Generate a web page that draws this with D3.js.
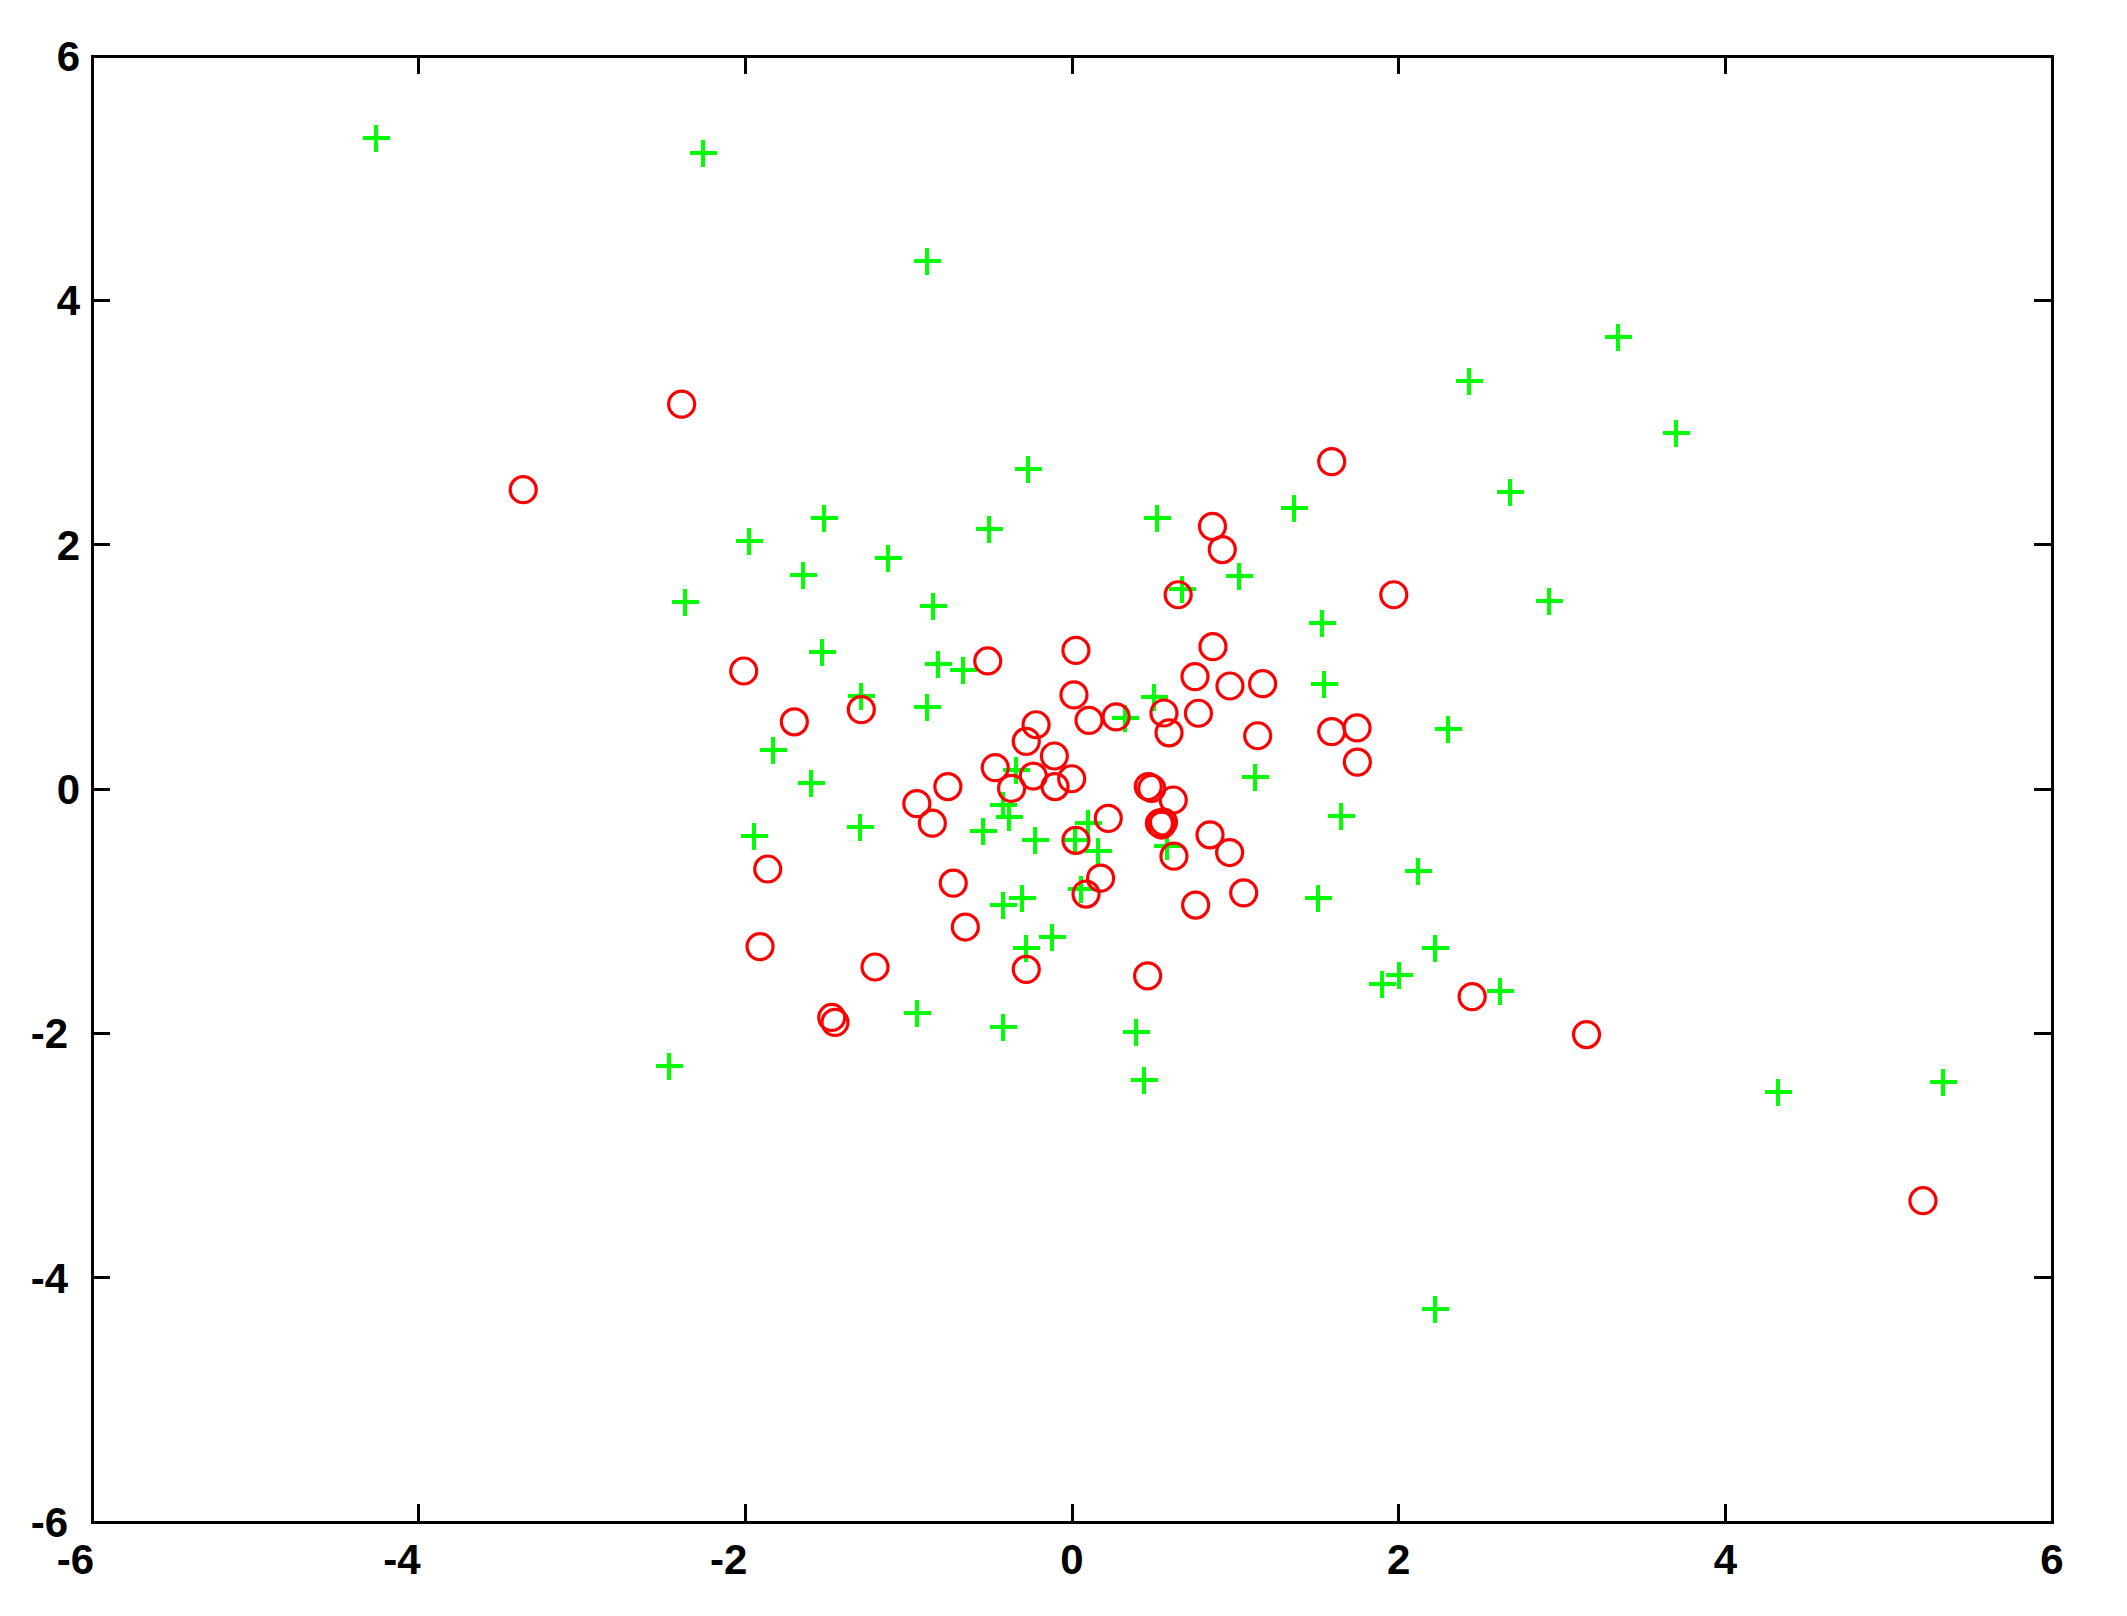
<!DOCTYPE html>
<html>
<head>
<meta charset="utf-8">
<script src="https://cdn.jsdelivr.net/npm/d3@7/dist/d3.min.js"></script>
<style>
  html, body { margin: 0; padding: 0; background: #ffffff; }
  svg { display: block; }
</style>
</head>
<body>
<svg id="chart" width="2127" height="1616"></svg>
<script>
// ---- data ----
const xTicks = [-6, -4, -2, 0, 2, 4, 6];
const yTicks = [-6, -4, -2, 0, 2, 4, 6];
const xTickLabels = ["-6", "-4", "-2", "0", "2", "4", "6"];
const yTickLabels = ["-6", "-4", "-2", "0", "2", "4", "6"];

// green "+" series
const plusX = [-4.26, -2.26, -0.89, 3.34, 2.43, 3.70, 2.68, -0.27, 1.36, 0.52,
  -1.52, -0.51, -1.98, -1.125, -1.65, 1.02, 0.675, -2.37, -0.85, 2.92,
  1.53, -1.53, -0.82, -0.665, 1.54, 0.50, -1.29, -0.89, 0.325, 2.30,
  -1.83, -0.34, 1.118, -1.60, -0.42, -0.384, 1.645, -1.945, -1.30, -0.543,
  0.096, -0.225, 0.018, 0.157, 0.58, 2.12, -0.304, -0.424, 0.057, 1.504,
  -0.124, -0.28, 2.22, 2.00, 1.896, 2.62, -0.947, -0.424, 0.39, -2.47,
  0.44, 4.32, 5.33, 2.22];
const plusY = [5.33, 5.21, 4.32, 3.70, 3.34, 2.91, 2.43, 2.62, 2.30, 2.22,
  2.22, 2.13, 2.03, 1.89, 1.75, 1.74, 1.64, 1.53, 1.50, 1.54,
  1.36, 1.12, 1.02, 0.97, 0.86, 0.755, 0.76, 0.67, 0.58, 0.49,
  0.32, 0.155, 0.095, 0.05, -0.13, -0.23, -0.22, -0.385, -0.31, -0.34,
  -0.275, -0.42, -0.42, -0.51, -0.47, -0.67, -0.89, -0.95, -0.82, -0.895,
  -1.21, -1.30, -1.30, -1.52, -1.60, -1.65, -1.83, -1.945, -1.99, -2.27,
  -2.38, -2.48, -2.40, -4.26];

// red "o" series
const circX = [-3.36, -2.39, 1.59, 0.86, 0.92, 0.65, 1.97, 0.024, 0.863, 0.753,
  0.967, 1.167, 0.012, 0.104, 0.27, 0.563, 0.774, 0.594, 1.137, 1.59,
  1.745, 1.747, -0.108, -0.002, -0.104, 0.467, 0.488, 0.62, 0.222, 0.535,
  0.549, 0.56, 0.024, 0.175, 0.086, 0.624, 0.845, 0.965, 0.757, 1.051,
  0.463, 2.45, 3.15, 5.21, -2.01, -0.516, -1.29, -1.70, -0.22, -0.28,
  -0.47, -0.237, -0.37, -0.76, -0.95, -0.855, -1.863, -0.727, -0.653, -1.91,
  -1.206, -0.28, -1.471, -1.451];
const circY = [2.45, 3.15, 2.68, 2.15, 1.96, 1.59, 1.59, 1.135, 1.165, 0.92,
  0.843, 0.862, 0.77, 0.562, 0.59, 0.622, 0.62, 0.46, 0.436, 0.47,
  0.50, 0.22, 0.27, 0.084, 0.02, 0.02, 0.005, -0.09, -0.24, -0.28,
  -0.295, -0.27, -0.42, -0.73, -0.86, -0.55, -0.375, -0.52, -0.95, -0.85,
  -1.53, -1.70, -2.01, -3.37, 0.966, 1.048, 0.65, 0.55, 0.526, 0.39,
  0.175, 0.106, 0.005, 0.02, -0.12, -0.28, -0.655, -0.77, -1.13, -1.29,
  -1.457, -1.476, -1.87, -1.91];

// ---- layout ----
const L = 92, R = 2052, T = 56, B = 1522;
const svg = d3.select("#chart");
const x = d3.scaleLinear().domain([-6, 6]).range([L, R]);
const y = d3.scaleLinear().domain([-6, 6]).range([B, T]);

const tickLen = 18;
const font = "'Liberation Sans', Arial, sans-serif";

// points
const plusPts = plusX.map((v, i) => [v, plusY[i]]);
const circPts = circX.map((v, i) => [v, circY[i]]);
const arm = 13.5;

svg.append("g").selectAll("path").data(plusPts).join("path")
  .attr("d", d => {
    const px = Math.round(x(d[0])), py = Math.round(y(d[1]));
    return `M${px - arm},${py}H${px + arm}M${px},${py - arm}V${py + arm}`;
  })
  .attr("stroke", "#00ff00").attr("stroke-width", 3.2).attr("fill", "none")
  .attr("shape-rendering", "crispEdges");

svg.append("g").selectAll("circle").data(circPts).join("circle")
  .attr("cx", d => x(d[0])).attr("cy", d => y(d[1])).attr("r", 13)
  .attr("stroke", "#ff0000").attr("stroke-width", 3.2).attr("fill", "none");

// axes (box with inward ticks on all sides)
const axG = svg.append("g").attr("stroke", "#000").attr("fill", "none")
  .attr("shape-rendering", "crispEdges");
axG.append("rect").attr("x", L).attr("y", T).attr("width", R - L).attr("height", B - T)
  .attr("stroke-width", 3);

const inner = [-4, -2, 0, 2, 4];
inner.forEach(v => {
  axG.append("line").attr("x1", x(v)).attr("x2", x(v)).attr("y1", B).attr("y2", B - tickLen).attr("stroke-width", 3);
  axG.append("line").attr("x1", x(v)).attr("x2", x(v)).attr("y1", T).attr("y2", T + tickLen).attr("stroke-width", 3);
  axG.append("line").attr("y1", y(v)).attr("y2", y(v)).attr("x1", L).attr("x2", L + tickLen).attr("stroke-width", 3);
  axG.append("line").attr("y1", y(v)).attr("y2", y(v)).attr("x1", R).attr("x2", R - tickLen).attr("stroke-width", 3);
});

// tick labels
const txtG = svg.append("g").attr("font-family", font).attr("font-size", 42)
  .attr("font-weight", "bold").attr("fill", "#000");

xTicks.forEach((v, i) => {
  const neg = v < 0;
  txtG.append("text")
    .attr("x", neg ? x(v) + 2 : x(v))
    .attr("y", B + 52)
    .attr("text-anchor", neg ? "end" : "middle")
    .text(xTickLabels[i]);
});

yTicks.forEach((v, i) => {
  const neg = v < 0;
  txtG.append("text")
    .attr("x", neg ? 68 : 80)
    .attr("y", y(v) + 15)
    .attr("text-anchor", "end")
    .text(yTickLabels[i]);
});
</script>
</body>
</html>
